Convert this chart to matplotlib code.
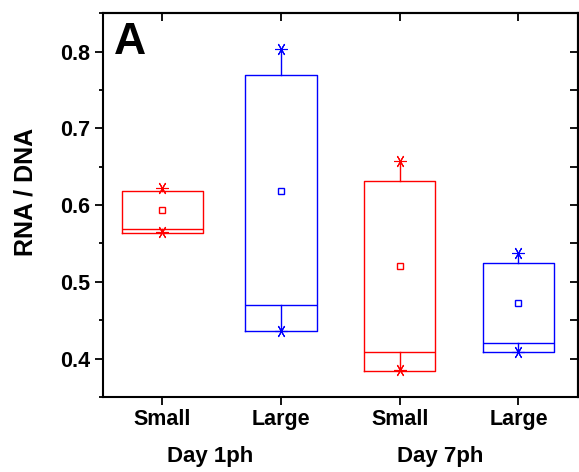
import matplotlib.pyplot as plt

plt.rcParams['font.family'] = ['Liberation Sans', 'DejaVu Sans']
plt.rcParams['font.weight'] = 'bold'

# box statistics
sizes = ['Small', 'Large', 'Small', 'Large']
days = ['Day 1ph', 'Day 7ph']
q1 = [0.564, 0.436, 0.384, 0.408]
median = [0.569, 0.470, 0.409, 0.420]
q3 = [0.618, 0.769, 0.632, 0.525]
mean = [0.593, 0.619, 0.521, 0.473]
vmin = [0.565, 0.436, 0.385, 0.409]
vmax = [0.622, 0.803, 0.657, 0.537]
colors = ['#ff0000', '#0000ff', '#ff0000', '#0000ff']
widths = [0.68, 0.6, 0.6, 0.6]

fig = plt.figure(figsize=(5.79, 4.72), dpi=100)
ax = fig.add_axes([0.178, 0.159, 0.820, 0.813])

star = (6, 2, 90)
for i in range(4):
    x = i + 1
    c = colors[i]
    st = dict(q1=q1[i], med=median[i], q3=q3[i], mean=mean[i],
              whislo=vmin[i], whishi=vmax[i], fliers=[])
    ax.bxp([st], positions=[x], widths=widths[i], showcaps=False,
           showfliers=False, showmeans=True,
           boxprops=dict(color=c, linewidth=1.0),
           medianprops=dict(color=c, linewidth=1.0),
           whiskerprops=dict(color=c, linewidth=1.0),
           meanprops=dict(marker='s', markersize=4, markerfacecolor='white',
                          markeredgecolor=c, markeredgewidth=1.0))
    # lower whisker drawn from the median down to the minimum
    ax.plot([x, x], [median[i], vmin[i]], color=c, linewidth=1.0)
    ax.plot([x, x], [vmin[i], vmax[i]], linestyle='none', marker=star,
            markersize=9, markeredgewidth=0.8, color=c)

ax.set_xlim(0.5, 4.5)
ax.set_ylim(0.35, 0.85)
ax.set_xticks([1, 2, 3, 4])
ax.set_xticklabels(sizes, fontsize=15.5, fontweight='bold')
ax.set_yticks([0.4, 0.5, 0.6, 0.7, 0.8])
ax.set_yticks([0.35, 0.45, 0.55, 0.65, 0.75, 0.85], minor=True)
ax.set_yticklabels(['0.4', '0.5', '0.6', '0.7', '0.8'], fontsize=15.5, fontweight='bold')
ax.tick_params(axis='both', which='major', direction='out', length=6, width=1.3, pad=3)
ax.tick_params(axis='y', which='minor', direction='out', length=3, width=1.3)
for s in ax.spines.values():
    s.set_linewidth(1.5)

top = ax.secondary_xaxis('top')
top.set_xticks([1, 2, 3, 4])
top.tick_params(direction='in', length=6, width=1.3, labeltop=False)
right = ax.secondary_yaxis('right')
right.set_yticks([0.4, 0.5, 0.6, 0.7, 0.8])
right.set_yticks([0.35, 0.45, 0.55, 0.65, 0.75, 0.85], minor=True)
right.tick_params(which='both', direction='in', length=6, width=1.3, labelright=False)
for sa in (top, right):
    for s in sa.spines.values():
        s.set_linewidth(1.5)

ax.set_ylabel('RNA / DNA', fontsize=18, fontweight='bold')
ax.yaxis.set_label_coords(-0.139, 0.533)

ax.text(1.4, -0.154, days[0], transform=ax.get_xaxis_transform(),
        ha='center', va='center', fontsize=16, fontweight='bold')
ax.text(3.34, -0.154, days[1], transform=ax.get_xaxis_transform(),
        ha='center', va='center', fontsize=16, fontweight='bold')
ax.text(0.022, 0.893, 'A', transform=ax.transAxes, ha='left', va='baseline',
        fontsize=32, fontweight='bold')

fig.savefig('out.png', dpi=100)
